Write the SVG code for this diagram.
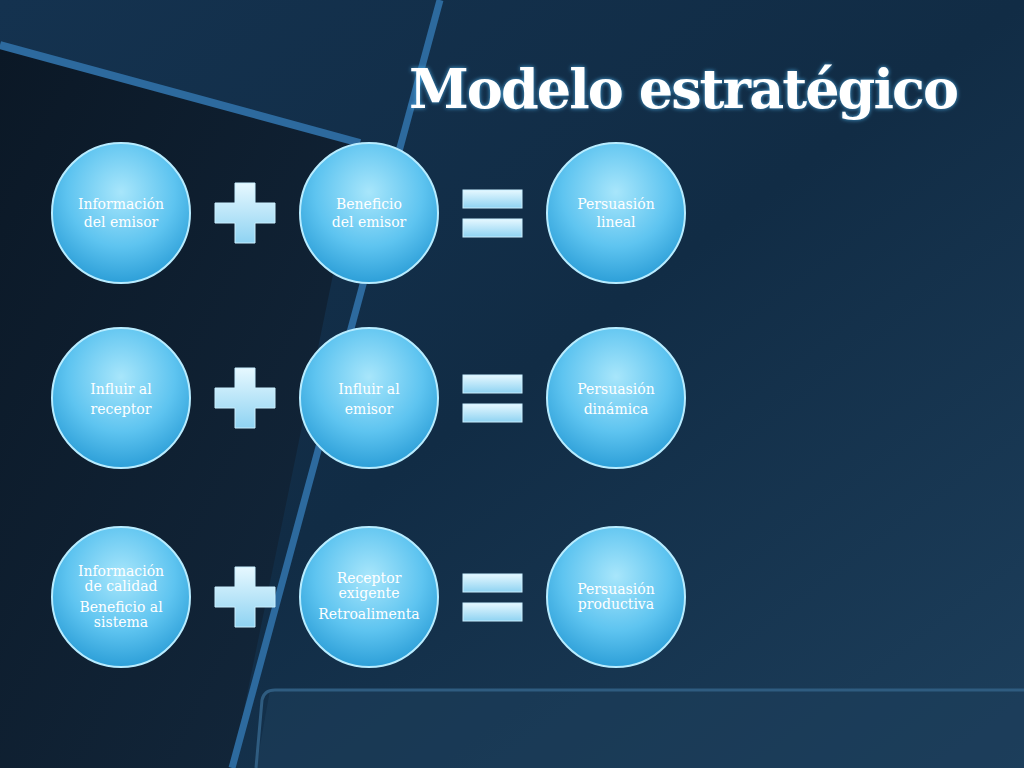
<svg xmlns="http://www.w3.org/2000/svg" width="1024" height="768" viewBox="0 0 1024 768">
<defs>
<linearGradient id="bg" x1="0" y1="0" x2="1" y2="1"><stop offset="0" stop-color="#14324f"/><stop offset="0.5" stop-color="#112c45"/><stop offset="1" stop-color="#1d3f5c"/></linearGradient>
<linearGradient id="dark" x1="0" y1="0" x2="1" y2="1"><stop offset="0" stop-color="#0b1826"/><stop offset="1" stop-color="#13283d"/></linearGradient>
<radialGradient id="ball" cx="0.5" cy="0.35" r="0.65"><stop offset="0" stop-color="#a8e6fb"/><stop offset="0.6" stop-color="#5ec4f0"/><stop offset="1" stop-color="#2d9fd8"/></radialGradient>
<linearGradient id="sym" x1="0" y1="0" x2="0" y2="1"><stop offset="0" stop-color="#e6f8ff"/><stop offset="1" stop-color="#8fd3f2"/></linearGradient>
<filter id="glow"><feGaussianBlur stdDeviation="2"/></filter>
</defs>
<style>
.c{fill:url(#ball);stroke:#b8ecff;stroke-width:2}
.t{font-family:"DejaVu Serif","Liberation Serif",serif;fill:#fff;text-anchor:middle;font-size:14px}
.s{fill:url(#sym);stroke:#c9efff;stroke-width:1}
</style>
<rect width="1024" height="768" fill="url(#bg)"/>
<polygon points="0,48 360,143 232,768 0,768" fill="url(#dark)"/>
<path d="M270,690 L1024,690 L1024,768 L256,768 Z" fill="#1c3d5a" opacity="0.6"/>
<path d="M256,768 L262,700 Q264,690 275,690 L1024,690" fill="none" stroke="#2f5c80" stroke-width="3"/>
<line x1="0" y1="45" x2="360" y2="143" stroke="#2d6a9e" stroke-width="8"/>
<line x1="440" y1="0" x2="232" y2="768" stroke="#2d6a9e" stroke-width="7"/>
<g id="title"><text x="684" y="108" font-family="DejaVu Serif,serif" font-size="54" font-weight="bold" fill="#4aa8e0" text-anchor="middle" filter="url(#glow)" textLength="550">Modelo estratégico</text><text x="684" y="108" font-family="DejaVu Serif,serif" font-size="54" font-weight="bold" fill="#fff" text-anchor="middle" textLength="550">Modelo estratégico</text></g>
<g id="connectors">
<path class="s" d="M235,183h20v20h20v20h-20v20h-20v-20h-20v-20h20z"/>
<path class="s" d="M235,368h20v20h20v20h-20v20h-20v-20h-20v-20h20z"/>
<path class="s" d="M235,567h20v20h20v20h-20v20h-20v-20h-20v-20h20z"/>
<rect class="s" x="463" y="190" width="59" height="18"/><rect class="s" x="463" y="219" width="59" height="18"/>
<rect class="s" x="463" y="375" width="59" height="18"/><rect class="s" x="463" y="404" width="59" height="18"/>
<rect class="s" x="463" y="574" width="59" height="18"/><rect class="s" x="463" y="603" width="59" height="18"/>
</g>
<g id="n1"><ellipse class="c" cx="121" cy="213" rx="69" ry="70"/><text class="t" x="121" y="209">Información</text><text class="t" x="121" y="227">del emisor</text></g>
<g id="n2"><ellipse class="c" cx="369" cy="213" rx="69" ry="70"/><text class="t" x="369" y="209">Beneficio</text><text class="t" x="369" y="227">del emisor</text></g>
<g id="n3"><ellipse class="c" cx="616" cy="213" rx="69" ry="70"/><text class="t" x="616" y="209">Persuasión</text><text class="t" x="616" y="227">lineal</text></g>
<g id="n4"><ellipse class="c" cx="121" cy="398" rx="69" ry="70"/><text class="t" x="121" y="394" font-size="16">Influir al</text><text class="t" x="121" y="414" font-size="16">receptor</text></g>
<g id="n5"><ellipse class="c" cx="369" cy="398" rx="69" ry="70"/><text class="t" x="369" y="394" font-size="16">Influir al</text><text class="t" x="369" y="414" font-size="16">emisor</text></g>
<g id="n6"><ellipse class="c" cx="616" cy="398" rx="69" ry="70"/><text class="t" x="616" y="394" font-size="16">Persuasión</text><text class="t" x="616" y="414" font-size="16">dinámica</text></g>
<g id="n7"><ellipse class="c" cx="121" cy="597" rx="69" ry="70"/><text class="t" x="121" y="576" font-size="12">Información</text><text class="t" x="121" y="591" font-size="12">de calidad</text><text class="t" x="121" y="612" font-size="12">Beneficio al</text><text class="t" x="121" y="627" font-size="12">sistema</text></g>
<g id="n8"><ellipse class="c" cx="369" cy="597" rx="69" ry="70"/><text class="t" x="369" y="583" font-size="12">Receptor</text><text class="t" x="369" y="598" font-size="12">exigente</text><text class="t" x="369" y="619" font-size="12">Retroalimenta</text></g>
<g id="n9"><ellipse class="c" cx="616" cy="597" rx="69" ry="70"/><text class="t" x="616" y="594" font-size="12">Persuasión</text><text class="t" x="616" y="609" font-size="12">productiva</text></g>
</svg>
